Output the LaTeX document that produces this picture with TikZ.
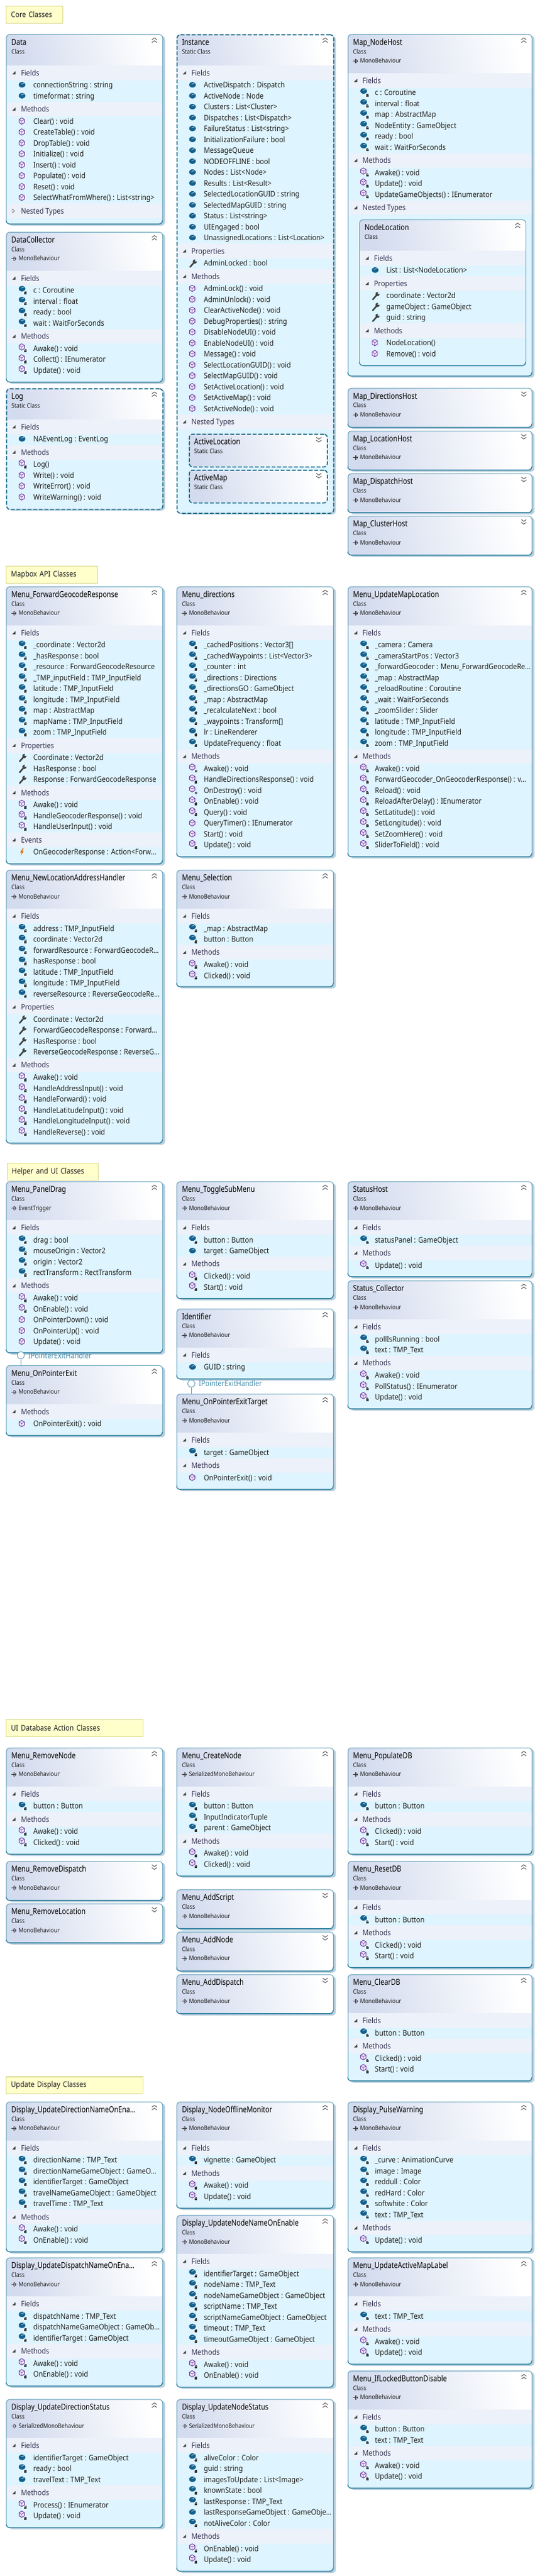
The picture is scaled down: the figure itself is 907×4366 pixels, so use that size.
\documentclass[tikz,border=0pt]{standalone}
\usepackage{fontspec}
\newfontfamily\rowfam[FakeStretch=.89]{Noto Sans}
\newfontfamily\smallfam[FakeStretch=.88]{Noto Sans}
\newfontfamily\titlefam[FakeStretch=.82]{Noto Sans}
\definecolor{hdrc}{HTML}{D3DBEE}
\definecolor{bandc}{HTML}{EDF1FA}
\definecolor{palec}{HTML}{DEF4FE}
\definecolor{bordc}{HTML}{5C9DB8}
\definecolor{bordd}{HTML}{2F7F9F}
\definecolor{dashc}{HTML}{1F6E8C}
\definecolor{shadc}{HTML}{B9CFDD}
\definecolor{notef}{HTML}{FFFFCC}
\definecolor{noted}{HTML}{D8D88C}
\definecolor{fldc}{HTML}{14618F}
\definecolor{mthc}{HTML}{6B2FA0}
\definecolor{txtc}{HTML}{1E1E1E}
\definecolor{secc}{HTML}{33304F}
\definecolor{lblc}{HTML}{3F88A8}
\pgfdeclarelayer{bgl}
\pgfsetlayers{bgl,main}
\newcount\nc
\tikzset{
  rowtxt/.style={anchor=base west,inner sep=0pt,text=txtc,font=\rowfam\fontsize{13}{15}\selectfont},
  sectxt/.style={anchor=base west,inner sep=0pt,text=secc,font=\rowfam\fontsize{13}{15}\selectfont},
  ttltxt/.style={anchor=base west,inner sep=0pt,text=black,font=\titlefam\bfseries\fontsize{14}{16}\selectfont},
  knd/.style={anchor=base west,inner sep=0pt,text=txtc,font=\smallfam\fontsize{10.5}{12}\selectfont},
  lbltxt/.style={anchor=base west,inner sep=0pt,text=lblc,font=\rowfam\fontsize{13}{15}\selectfont},
  sbord/.style={draw=bordc,line width=1pt},
  dbord/.style={draw=dashc,line width=1.8pt,dash pattern=on 6.5pt off 3pt},
  notebox/.style={draw=noted,line width=1.4pt,fill=notef,anchor=north west,inner sep=0pt,align=left,text=txtc,font=\rowfam\fontsize{13}{15}\selectfont},
  lolli/.style={circle,draw=bordc,fill=white,line width=1pt,minimum size=12pt,inner sep=0pt},
  lline/.style={draw=bordc,line width=.9pt},
  fldi/.pic={
    \fill[fldc,rounded corners=1.5pt] (0,-5.2)--(5.5,-2.6)--(5.5,2.6)--(0,5.2)--(-5.5,2.6)--(-5.5,-2.6)--cycle;
    \draw[white!75!fldc,line width=.8pt] (-1.5,-1)--(3.5,-3);
  },
  mthi/.pic={
    \draw[mthc,line width=.9pt,fill=white!88!mthc] (0,-5.4)--(4.5,-2.7)--(4.5,2.7)--(0,5.4)--(-4.5,2.7)--(-4.5,-2.7)--cycle;
    \draw[mthc,line width=.6pt] (-4.5,-2.7)--(0,0)--(4.5,-2.7) (0,0)--(0,5.4);
  },
  locki/.pic={
    \fill[black!80] (-2,-.6) rectangle (2,2.8);
    \draw[black!80,line width=.7pt] (-1.2,-.6)--(-1.2,-2)--(1.2,-2)--(1.2,-.6);
  },
  stari/.pic={
    \draw[black!80,line width=.7pt] (-2.2,0)--(2.2,0) (-1.3,-2)--(1.3,2) (1.3,-2)--(-1.3,2);
  },
  wri/.pic={
    \draw[black!75,line width=2.6pt,line cap=round] (-5,6)--(2,-2);
    \fill[black!75] (3,-3.2) circle (3.6pt);
    \fill[palec] (3.2,-3.2)--(8,-3.8)--(4,-8)--cycle;
  },
  evi/.pic={
    \fill[orange!85!black] (1,-6)--(-3,.8)--(-.3,.8)--(-2,6)--(3,-1.4)--(.4,-1.4)--(2.6,-6)--cycle;
  },
}
\def\ADV#1{\pgfmathsetmacro\tmpv{\curY+#1}\xdef\curY{\tmpv}}
\def\SetY#1{\xdef\curY{#1}}
\def\TN#1#2#3{\global\advance\nc by 1 \node[#1,name=n\the\nc] at (#2) {#3};}
\def\Chev#1#2#3{% x y dir(-1 up,1 down)
  \draw[black!62,line width=1.1pt] (#1-4.3,#2+#3*-1.5-3.2)--(#1,#2+#3*1.5-3.2)--(#1+4.3,#2+#3*-1.5-3.2)
     (#1-4.3,#2+#3*-1.5+1.6)--(#1,#2+#3*1.5+1.6)--(#1+4.3,#2+#3*-1.5+1.6);
}
\def\HeadTxt#1#2#3#4{% title kind base dir
  \TN{ttltxt}{\bx+9,\btop+18.3}{#1}
  \TN{knd}{\bx+9,\btop+33}{#2}
  \def\tmpb{#3}\ifx\tmpb\empty\else
    \TN{knd}{\bx+21,\btop+48.7}{#3}
    \draw[black!80,line width=.7pt] (\bx+9,\btop+45.5)--(\bx+17,\btop+45.5)
      (\bx+14,\btop+42)--(\bx+17,\btop+45.5)--(\bx+14,\btop+49) (\bx+13,\btop+42)--(\bx+13,\btop+49);
  \fi
  \Chev{\bx+\bw-13.5}{\btop+11}{#4}
}
\newcommand{\KBox}[8]{%
  \edef\bname{#1}\edef\bx{#2}\edef\btop{#3}\edef\bw{#4}\edef\bst{#5}%
  \def\tmpa{#8}\ifx\tmpa\empty\def\hh{53}\else\def\hh{66}\fi
  \shade[left color=hdrc,right color=white,shading angle=105]
     (\bx,\btop+\hh) [rounded corners=6pt] -- (\bx,\btop) -- (\bx+\bw,\btop) [sharp corners] -- (\bx+\bw,\btop+\hh) -- cycle;
  \HeadTxt{#6}{#7}{#8}{-1}
  \pgfmathsetmacro\tmpv{\btop+\hh}\xdef\curY{\tmpv}%
}
\newcommand{\KEnd}[1]{%
  \ADV{#1}%
  \pgfmathsetmacro\hgt{\curY-\btop}%
  \begin{pgfonlayer}{bgl}
    \fill[shadc,rounded corners=6pt] (\bx+4.5,\btop+3) rectangle (\bx+\bw+4.5,\curY+3);
    \fill[palec,rounded corners=6pt] (\bx,\btop) rectangle (\bx+\bw,\curY);
  \end{pgfonlayer}
  \tikzset{curb/.estyle={\bst}}%
  \node[curb,rounded corners=6pt,anchor=north west,inner sep=0pt,minimum width=\bw pt,minimum height=\hgt pt,name=\bname] at (\bx,\btop) {};
  \bottomline
}
\def\bottomline{\def\tmpd{dbord}\ifx\bst\tmpd\else
  \draw[bordd,line width=1.2pt] (\bx,\curY-6) [rounded corners=6pt] -- (\bx,\curY) -- (\bx+\bw,\curY) [sharp corners] -- (\bx+\bw,\curY-6);\fi}
\newcommand{\KColl}[9]{% name x top w style title kind base height
  \edef\bname{#1}\edef\bx{#2}\edef\btop{#3}\edef\bw{#4}\edef\bst{#5}%
  \SetY{#3}\ADV{#9}%
  \begin{pgfonlayer}{bgl}
    \fill[shadc,rounded corners=6pt] (\bx+4.5,\btop+3) rectangle (\bx+\bw+4.5,\curY+3);
  \end{pgfonlayer}
  \shade[left color=hdrc,right color=white,shading angle=105,rounded corners=6pt] (\bx,\btop) rectangle (\bx+\bw,\curY);
  \HeadTxt{#6}{#7}{#8}{1}
  \tikzset{curb/.estyle={\bst}}%
  \node[curb,rounded corners=6pt,anchor=north west,inner sep=0pt,minimum width=\bw pt,minimum height=#9 pt,name=\bname] at (\bx,\btop) {};
  \bottomline
}
\def\SaveOuter{\let\obname\bname\let\obx\bx\let\obtop\btop\let\obw\bw\let\obst\bst}
\def\RestOuter{\let\bname\obname\let\bx\obx\let\btop\obtop\let\bw\obw\let\bst\obst}
\newcommand{\NEnd}[1]{%
  \ADV{#1}%
  \pgfmathsetmacro\hgt{\curY-\btop}%
  \tikzset{curb/.estyle={\bst}}%
  \node[curb,rounded corners=6pt,anchor=north west,inner sep=0pt,minimum width=\bw pt,minimum height=\hgt pt,name=\bname] at (\bx,\btop) {};
  \bottomline
}
\def\Sc#1{\fill[bandc] (\bx,\curY) rectangle (\bx+\bw,\curY+24.5);
  \fill[black!75] (\bx+16,\curY+9.5)--(\bx+16,\curY+15)--(\bx+10.5,\curY+15)--cycle;
  \TN{sectxt}{\bx+25,\curY+17}{#1}\ADV{24.5}}
\def\ScC#1{\fill[bandc] (\bx,\curY) rectangle (\bx+\bw,\curY+24.5);
  \draw[black!65,line width=.6pt,fill=white] (\bx+10.5,\curY+9)--(\bx+14.5,\curY+12.5)--(\bx+10.5,\curY+16)--cycle;
  \TN{sectxt}{\bx+25,\curY+17}{#1}\ADV{24.5}}
\def\Rw#1{\TN{rowtxt}{\bx+46,\curY+13.4}{#1}\ADV{18.5}}
\def\fA#1{\pic at (\bx+27,\curY+8.2) {fldi};\Rw{#1}}
\def\fB#1{\pic at (\bx+27,\curY+5.8) {fldi};\pic at (\bx+33,\curY+12.5) {locki};\Rw{#1}}
\def\mA#1{\pic at (\bx+26.5,\curY+8.2) {mthi};\Rw{#1}}
\def\mB#1{\pic at (\bx+26.5,\curY+6) {mthi};\pic at (\bx+33,\curY+12.5) {locki};\Rw{#1}}
\def\mC#1{\pic at (\bx+26.5,\curY+6) {mthi};\pic at (\bx+33,\curY+13) {stari};\Rw{#1}}
\def\pA#1{\pic at (\bx+28,\curY+9) {wri};\Rw{#1}}
\def\eA#1{\pic at (\bx+27,\curY+8.5) {evi};\Rw{#1}}
\def\Note#1#2#3#4#5#6{\pgfmathsetmacro\nw{#4-#2}\pgfmathsetmacro\nh{#5-#3}\pgfmathsetmacro\ntw{\nw-16}%
  \node[notebox,name=#1,minimum width=\nw pt,minimum height=\nh pt,text width=\ntw pt,inner xsep=8pt] at (#2,#3) {#6};}
\def\xa{10.3}\def\xb{299.3}\def\xc{589.5}\def\wa{265}\def\wb{265.5}\def\wc{312}
\def\MB{MonoBehaviour}\def\SMB{SerializedMonoBehaviour}
\begin{document}
\catcode`\_=12
\begin{tikzpicture}[x=1pt,y=-1pt]
\useasboundingbox (0,0) rectangle (907,4366);
%%%%% Core
\Note{noteCore}{10}{10}{106}{38.7}{Core Classes}
\KBox{Data}{\xa}{58}{\wa}{sbord}{Data}{Class}{}
\Sc{Fields}\fA{connectionString : string}\fA{timeformat : string}
\Sc{Methods}\mA{Clear() : void}\mA{CreateTable() : void}\mA{DropTable() : void}\mA{Initialize() : void}\mA{Insert() : void}\mA{Populate() : void}\mA{Reset() : void}\mA{SelectWhatFromWhere() : List<string>}
\ScC{Nested Types}
\KEnd{10}
\KBox{DataCollector}{\xa}{393}{\wa}{sbord}{DataCollector}{Class}{\MB}
\Sc{Fields}\fB{c : Coroutine}\fB{interval : float}\fB{ready : bool}\fB{wait : WaitForSeconds}
\Sc{Methods}\mB{Awake() : void}\mB{Collect() : IEnumerator}\mB{Update() : void}
\KEnd{10}
\KBox{Log}{\xa}{658}{\wa}{dbord}{Log}{Static Class}{}
\Sc{Fields}\fA{NAEventLog : EventLog}
\Sc{Methods}\mB{Log()}\mA{Write() : void}\mA{WriteError() : void}\mA{WriteWarning() : void}
\KEnd{10}
\KBox{Instance}{\xb}{58}{\wb}{dbord}{Instance}{Static Class}{}
\Sc{Fields}\fA{ActiveDispatch : Dispatch}\fA{ActiveNode : Node}\fA{Clusters : List<Cluster>}\fA{Dispatches : List<Dispatch>}\fA{FailureStatus : List<string>}\fA{InitializationFailure : bool}\fA{MessageQueue}\fA{NODEOFFLINE : bool}\fA{Nodes : List<Node>}\fA{Results : List<Result>}\fA{SelectedLocationGUID : string}\fA{SelectedMapGUID : string}\fA{Status : List<string>}\fA{UIEngaged : bool}\fA{UnassignedLocations : List<Location>}
\Sc{Properties}\pA{AdminLocked : bool}
\Sc{Methods}\mA{AdminLock() : void}\mA{AdminUnlock() : void}\mA{ClearActiveNode() : void}\mA{DebugProperties() : string}\mA{DisableNodeUI() : void}\mA{EnableNodeUI() : void}\mA{Message() : void}\mA{SelectLocationGUID() : void}\mA{SelectMapGUID() : void}\mA{SetActiveLocation() : void}\mA{SetActiveMap() : void}\mA{SetActiveNode() : void}
\Sc{Nested Types}
\SaveOuter
\KColl{ActiveLocation}{320}{735}{234}{dbord}{ActiveLocation}{Static Class}{}{55.5}
\KColl{ActiveMap}{320}{796}{234}{dbord}{ActiveMap}{Static Class}{}{55.5}
\RestOuter
\KEnd{17.5}
\KBox{MapNodeHost}{\xc}{58}{\wc}{sbord}{Map_NodeHost}{Class}{\MB}
\Sc{Fields}\fB{c : Coroutine}\fB{interval : float}\fB{map : AbstractMap}\fB{NodeEntity : GameObject}\fB{ready : bool}\fB{wait : WaitForSeconds}
\Sc{Methods}\mB{Awake() : void}\mB{Update() : void}\mB{UpdateGameObjects() : IEnumerator}
\Sc{Nested Types}
\SaveOuter
\KBox{NodeLocation}{609}{372}{282}{sbord}{NodeLocation}{Class}{}
\Sc{Fields}\fA{List : List<NodeLocation>}
\Sc{Properties}\pA{coordinate : Vector2d}\pA{gameObject : GameObject}\pA{guid : string}
\Sc{Methods}\mA{NodeLocation()}\mA{Remove() : void}
\NEnd{10}
\RestOuter
\KEnd{17.7}
\KColl{MapDirectionsHost}{\xc}{657.7}{\wc}{sbord}{Map_DirectionsHost}{Class}{\MB}{66.5}
\KColl{MapLocationHost}{\xc}{730}{\wc}{sbord}{Map_LocationHost}{Class}{\MB}{66.5}
\KColl{MapDispatchHost}{\xc}{802.3}{\wc}{sbord}{Map_DispatchHost}{Class}{\MB}{66.5}
\KColl{MapClusterHost}{\xc}{874.3}{\wc}{sbord}{Map_ClusterHost}{Class}{\MB}{66.5}
%%%%% Mapbox
\Note{noteMapbox}{10}{959}{164.5}{987.7}{Mapbox API  Classes}
\KBox{MenuFGR}{\xa}{994}{\wa}{sbord}{Menu_ForwardGeocodeResponse}{Class}{\MB}
\Sc{Fields}\fB{_coordinate : Vector2d}\fB{_hasResponse : bool}\fB{_resource : ForwardGeocodeResource}\fB{_TMP_inputField : TMP_InputField}\fB{latitude : TMP_InputField}\fB{longitude : TMP_InputField}\fB{map : AbstractMap}\fB{mapName : TMP_InputField}\fB{zoom : TMP_InputField}
\Sc{Properties}\pA{Coordinate : Vector2d}\pA{HasResponse : bool}\pA{Response : ForwardGeocodeResponse}
\Sc{Methods}\mB{Awake() : void}\mB{HandleGeocoderResponse() : void}\mB{HandleUserInput() : void}
\Sc{Events}\eA{OnGeocoderResponse : Action<Forw...}
\KEnd{10}
\KBox{MenuDirections}{\xb}{994}{\wb}{sbord}{Menu_directions}{Class}{\MB}
\Sc{Fields}\fB{_cachedPositions : Vector3[]}\fB{_cachedWaypoints : List<Vector3>}\fB{_counter : int}\fB{_directions : Directions}\fB{_directionsGO : GameObject}\fB{_map : AbstractMap}\fB{_recalculateNext : bool}\fB{_waypoints : Transform[]}\fB{lr : LineRenderer}\fB{UpdateFrequency : float}
\Sc{Methods}\mC{Awake() : void}\mB{HandleDirectionsResponse() : void}\mC{OnDestroy() : void}\mB{OnEnable() : void}\mB{Query() : void}\mA{QueryTimer() : IEnumerator}\mA{Start() : void}\mB{Update() : void}
\KEnd{10}
\KBox{MenuUML}{\xc}{994}{\wc}{sbord}{Menu_UpdateMapLocation}{Class}{\MB}
\Sc{Fields}\fB{_camera : Camera}\fB{_cameraStartPos : Vector3}\fB{_forwardGeocoder : Menu_ForwardGeocodeRe...}\fB{_map : AbstractMap}\fB{_reloadRoutine : Coroutine}\fB{_wait : WaitForSeconds}\fB{_zoomSlider : Slider}\fB{latitude : TMP_InputField}\fB{longitude : TMP_InputField}\fB{zoom : TMP_InputField}
\Sc{Methods}\mB{Awake() : void}\mB{ForwardGeocoder_OnGeocoderResponse() : v...}\mB{Reload() : void}\mB{ReloadAfterDelay() : IEnumerator}\mB{SetLatitude() : void}\mB{SetLongitude() : void}\mB{SetZoomHere() : void}\mB{SliderToField() : void}
\KEnd{10}
\KBox{MenuNLAH}{\xa}{1474.3}{\wa}{sbord}{Menu_NewLocationAddressHandler}{Class}{\MB}
\Sc{Fields}\fB{address : TMP_InputField}\fB{coordinate : Vector2d}\fB{forwardResource : ForwardGeocodeR...}\fB{hasResponse : bool}\fB{latitude : TMP_InputField}\fB{longitude : TMP_InputField}\fB{reverseResource : ReverseGeocodeRe...}
\Sc{Properties}\pA{Coordinate : Vector2d}\pA{ForwardGeocodeResponse : Forward...}\pA{HasResponse : bool}\pA{ReverseGeocodeResponse : ReverseG...}
\Sc{Methods}\mB{Awake() : void}\mB{HandleAddressInput() : void}\mB{HandleForward() : void}\mB{HandleLatitudeInput() : void}\mB{HandleLongitudeInput() : void}\mB{HandleReverse() : void}
\KEnd{9}
\KBox{MenuSelection}{\xb}{1474.3}{\wb}{sbord}{Menu_Selection}{Class}{\MB}
\Sc{Fields}\fB{_map : AbstractMap}\fB{button : Button}
\Sc{Methods}\mB{Awake() : void}\mB{Clicked() : void}
\KEnd{9}
%%%%% Helper
\Note{noteHelper}{11.5}{1971}{165.5}{1999.7}{Helper and UI Classes}
\KBox{MenuPanelDrag}{\xa}{2002.3}{\wa}{sbord}{Menu_PanelDrag}{Class}{EventTrigger}
\Sc{Fields}\fB{drag : bool}\fB{mouseOrigin : Vector2}\fB{origin : Vector2}\fB{rectTransform : RectTransform}
\Sc{Methods}\mB{Awake() : void}\mB{OnEnable() : void}\mA{OnPointerDown() : void}\mA{OnPointerUp() : void}\mA{Update() : void}
\KEnd{9}
\KBox{MenuOnPointerExit}{\xa}{2314}{\wa}{sbord}{Menu_OnPointerExit}{Class}{\MB}
\Sc{Methods}\mA{OnPointerExit() : void}
\KEnd{10}
\node[lolli,name=lolliA] at (35.3,2297) {};
\draw[lline] (lolliA.south) -- (lolliA.south |- MenuOnPointerExit.north);
\node[lbltxt,name=lblA] at (48,2302) {IPointerExitHandler};
\KBox{MenuToggle}{\xb}{2002.3}{\wb}{sbord}{Menu_ToggleSubMenu}{Class}{\MB}
\Sc{Fields}\fB{button : Button}\fA{target : GameObject}
\Sc{Methods}\mB{Clicked() : void}\mB{Start() : void}
\KEnd{9.5}
\KBox{Identifier}{\xb}{2218}{\wb}{sbord}{Identifier}{Class}{\MB}
\Sc{Fields}\fA{GUID : string}
\KEnd{10}
\KBox{MenuOPET}{\xb}{2362.3}{\wb}{sbord}{Menu_OnPointerExitTarget}{Class}{\MB}
\Sc{Fields}\fB{target : GameObject}
\Sc{Methods}\mA{OnPointerExit() : void}
\KEnd{10}
\node[lolli,name=lolliB] at (324.4,2345) {};
\draw[lline] (lolliB.south) -- (lolliB.south |- MenuOPET.north);
\node[lbltxt,name=lblB] at (337,2349.5) {IPointerExitHandler};
\KBox{StatusHost}{\xc}{2002.3}{\wc}{sbord}{StatusHost}{Class}{\MB}
\Sc{Fields}\fB{statusPanel : GameObject}
\Sc{Methods}\mB{Update() : void}
\KEnd{9.5}
\KBox{StatusCollector}{\xc}{2170.3}{\wc}{sbord}{Status_Collector}{Class}{\MB}
\Sc{Fields}\fB{pollIsRunning : bool}\fB{text : TMP_Text}
\Sc{Methods}\mB{Awake() : void}\mB{PollStatus() : IEnumerator}\mB{Update() : void}
\KEnd{10}
%%%%% UI DB
\Note{noteUI}{10}{2913.7}{241.7}{2942.7}{UI Database Action Classes}
\KBox{MenuRemoveNode}{\xa}{2962}{\wa}{sbord}{Menu_RemoveNode}{Class}{\MB}
\Sc{Fields}\fB{button : Button}
\Sc{Methods}\mB{Awake() : void}\mB{Clicked() : void}
\KEnd{10}
\KColl{MenuRemoveDispatch}{\xa}{3154.3}{\wa}{sbord}{Menu_RemoveDispatch}{Class}{\MB}{66.5}
\KColl{MenuRemoveLocation}{\xa}{3226.3}{\wa}{sbord}{Menu_RemoveLocation}{Class}{\MB}{66.5}
\KBox{MenuCreateNode}{\xb}{2962}{\wb}{sbord}{Menu_CreateNode}{Class}{\SMB}
\Sc{Fields}\fB{button : Button}\fB{InputIndicatorTuple}\fB{parent : GameObject}
\Sc{Methods}\mB{Awake() : void}\mB{Clicked() : void}
\KEnd{10}
\KColl{MenuAddScript}{\xb}{3202.3}{\wb}{sbord}{Menu_AddScript}{Class}{\MB}{66.5}
\KColl{MenuAddNode}{\xb}{3274}{\wb}{sbord}{Menu_AddNode}{Class}{\MB}{66.5}
\KColl{MenuAddDispatch}{\xb}{3346.3}{\wb}{sbord}{Menu_AddDispatch}{Class}{\MB}{66.5}
\KBox{MenuPopulateDB}{\xc}{2962}{\wc}{sbord}{Menu_PopulateDB}{Class}{\MB}
\Sc{Fields}\fB{button : Button}
\Sc{Methods}\mB{Clicked() : void}\mB{Start() : void}
\KEnd{10}
\KBox{MenuResetDB}{\xc}{3154.3}{\wc}{sbord}{Menu_ResetDB}{Class}{\MB}
\Sc{Fields}\fB{button : Button}
\Sc{Methods}\mB{Clicked() : void}\mB{Start() : void}
\KEnd{10}
\KBox{MenuClearDB}{\xc}{3346.3}{\wc}{sbord}{Menu_ClearDB}{Class}{\MB}
\Sc{Fields}\fB{button : Button}
\Sc{Methods}\mB{Clicked() : void}\mB{Start() : void}
\KEnd{10}
%%%%% Update
\Note{noteUpdate}{10}{3519.3}{241.7}{3547.7}{Update Display Classes}
\KBox{DispDirName}{\xa}{3562}{\wa}{sbord}{Display_UpdateDirectionNameOnEna...}{Class}{\MB}
\Sc{Fields}\fB{directionName : TMP_Text}\fB{directionNameGameObject : GameO...}\fB{identifierTarget : GameObject}\fB{travelNameGameObject : GameObject}\fB{travelTime : TMP_Text}
\Sc{Methods}\mB{Awake() : void}\mB{OnEnable() : void}
\KEnd{10}
\KBox{DispDispName}{\xa}{3826.3}{\wa}{sbord}{Display_UpdateDispatchNameOnEna...}{Class}{\MB}
\Sc{Fields}\fB{dispatchName : TMP_Text}\fB{dispatchNameGameObject : GameOb...}\fB{identifierTarget : GameObject}
\Sc{Methods}\mB{Awake() : void}\mB{OnEnable() : void}
\KEnd{10}
\KBox{DispDirStatus}{\xa}{4066.3}{\wa}{sbord}{Display_UpdateDirectionStatus}{Class}{\SMB}
\Sc{Fields}\fA{identifierTarget : GameObject}\fB{ready : bool}\fA{travelText : TMP_Text}
\Sc{Methods}\mB{Process() : IEnumerator}\mB{Update() : void}
\KEnd{10}
\KBox{DispOffline}{\xb}{3562}{\wb}{sbord}{Display_NodeOfflineMonitor}{Class}{\MB}
\Sc{Fields}\fB{vignette : GameObject}
\Sc{Methods}\mB{Awake() : void}\mB{Update() : void}
\KEnd{10}
\KBox{DispNodeName}{\xb}{3754.3}{\wb}{sbord}{Display_UpdateNodeNameOnEnable}{Class}{\MB}
\Sc{Fields}\fB{identifierTarget : GameObject}\fB{nodeName : TMP_Text}\fB{nodeNameGameObject : GameObject}\fB{scriptName : TMP_Text}\fB{scriptNameGameObject : GameObject}\fB{timeout : TMP_Text}\fB{timeoutGameObject : GameObject}
\Sc{Methods}\mB{Awake() : void}\mB{OnEnable() : void}
\KEnd{10}
\KBox{DispNodeStatus}{\xb}{4066.3}{\wb}{sbord}{Display_UpdateNodeStatus}{Class}{\SMB}
\Sc{Fields}\fB{aliveColor : Color}\fB{guid : string}\fA{imagesToUpdate : List<Image>}\fB{knownState : bool}\fB{lastResponse : TMP_Text}\fA{lastResponseGameObject : GameObje...}\fB{notAliveColor : Color}
\Sc{Methods}\mB{OnEnable() : void}\mB{Update() : void}
\KEnd{10}
\KBox{DispPulse}{\xc}{3562}{\wc}{sbord}{Display_PulseWarning}{Class}{\MB}
\Sc{Fields}\fB{_curve : AnimationCurve}\fB{image : Image}\fB{reddull : Color}\fB{redHard : Color}\fB{softwhite : Color}\fB{text : TMP_Text}
\Sc{Methods}\mB{Update() : void}
\KEnd{10}
\KBox{MenuActiveMapLabel}{\xc}{3826.3}{\wc}{sbord}{Menu_UpdateActiveMapLabel}{Class}{\MB}
\Sc{Fields}\fB{text : TMP_Text}
\Sc{Methods}\mB{Awake() : void}\mB{Update() : void}
\KEnd{10}
\KBox{MenuIfLocked}{\xc}{4018}{\wc}{sbord}{Menu_IfLockedButtonDisable}{Class}{\MB}
\Sc{Fields}\fB{button : Button}\fB{text : TMP_Text}
\Sc{Methods}\mB{Awake() : void}\mB{Update() : void}
\KEnd{10}
\end{tikzpicture}
\end{document}
